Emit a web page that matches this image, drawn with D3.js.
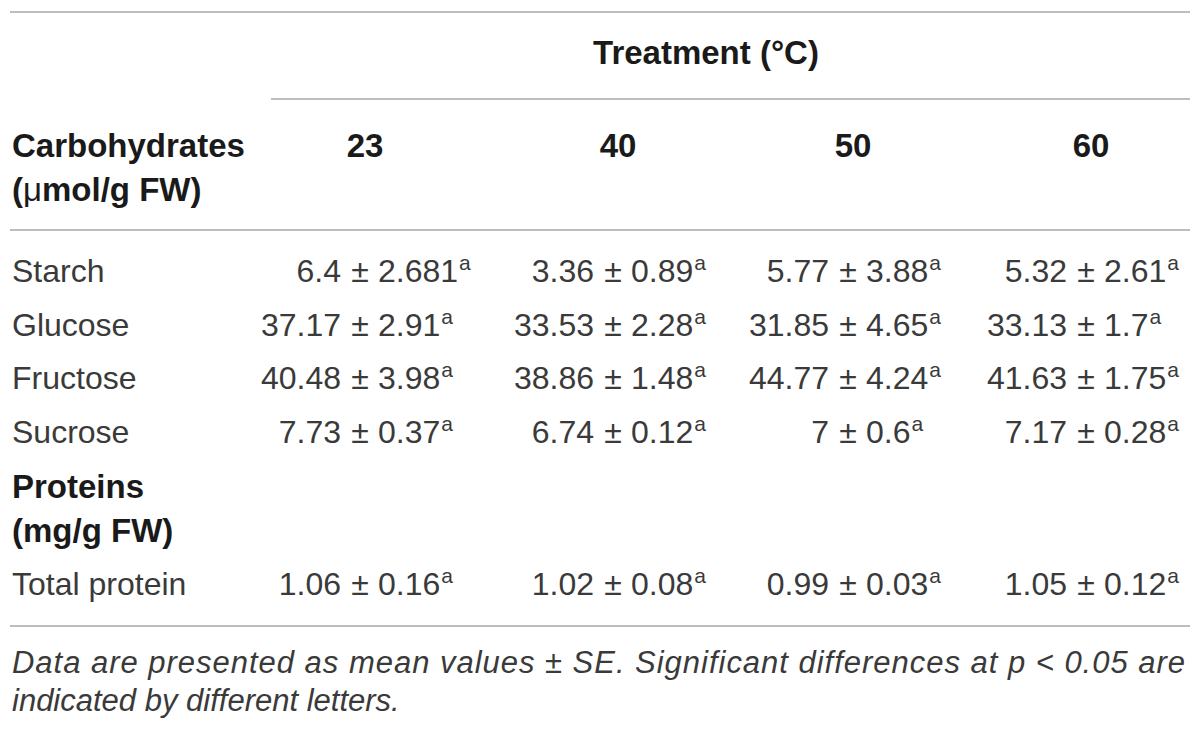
<!DOCTYPE html>
<html>
<head>
<meta charset="utf-8">
<script src="https://cdn.jsdelivr.net/npm/d3@7"></script>
<style>
  body { margin: 0; background: #fff; }
  text { font-family: "Liberation Sans", Arial, sans-serif; }
</style>
</head>
<body>
<div id="table"></div>
<script>
var w = 1200;
var h = 731;

// column headers (treatment temperature, °C)
var temps = ["23", "40", "50", "60"];

// carbohydrates (µmol/g FW), mean and SE per temperature
var carbLabels = ["Starch", "Glucose", "Fructose", "Sucrose"];
var starchMean = [6.4, 3.36, 5.77, 5.32];
var starchSE = [2.681, 0.89, 3.88, 2.61];
var glucoseMean = [37.17, 33.53, 31.85, 33.13];
var glucoseSE = [2.91, 2.28, 4.65, 1.7];
var fructoseMean = [40.48, 38.86, 44.77, 41.63];
var fructoseSE = [3.98, 1.48, 4.24, 1.75];
var sucroseMean = [7.73, 6.74, 7, 7.17];
var sucroseSE = [0.37, 0.12, 0.6, 0.28];

// proteins (mg/g FW)
var proteinLabels = ["Total protein"];
var proteinMean = [1.06, 1.02, 0.99, 1.05];
var proteinSE = [0.16, 0.08, 0.03, 0.12];

// significance letters
var letters = ["a", "a", "a", "a"];

var footnote = ["Data are presented as mean values \u00b1 SE. Significant differences at p < 0.05 are",
                "indicated by different letters."];

var rows = [
  { label: carbLabels[0], mean: starchMean, se: starchSE, y: 282 },
  { label: carbLabels[1], mean: glucoseMean, se: glucoseSE, y: 335.5 },
  { label: carbLabels[2], mean: fructoseMean, se: fructoseSE, y: 389 },
  { label: carbLabels[3], mean: sucroseMean, se: sucroseSE, y: 442.5 },
  { label: proteinLabels[0], mean: proteinMean, se: proteinSE, y: 595 }
];

// header centres; the ± sign of each column sits just left of it
var headCenter = d3.scaleOrdinal().domain(temps).range([365, 618, 853, 1091]);
var pmX = function(i) { return headCenter(temps[i]) - 5; };

var svg = d3.select("#table")
      .append("svg")
      .attr("width", w)
      .attr("height", h);

var ink = "#3a3a3a";
var bold = "#1a1a1a";
var rule = "#bdbdbd";
var fs = 32;

// horizontal rules
var rules = [[10, 1190, 12], [271, 1190, 99], [10, 1190, 230], [10, 1190, 626]];
svg.selectAll("line.rule")
   .data(rules)
   .enter()
   .append("line")
   .attr("x1", function(d) { return d[0]; })
   .attr("x2", function(d) { return d[1]; })
   .attr("y1", function(d) { return d[2]; })
   .attr("y2", function(d) { return d[2]; })
   .attr("stroke", rule)
   .attr("stroke-width", 2);

// header
svg.append("text")
   .attr("x", 706)
   .attr("y", 64)
   .attr("text-anchor", "middle")
   .attr("font-size", 33)
   .attr("font-weight", "bold")
   .attr("fill", bold)
   .text("Treatment (\u00b0C)");

svg.selectAll("text.temp")
   .data(temps)
   .enter()
   .append("text")
   .attr("class", "temp")
   .attr("x", function(d) { return headCenter(d); })
   .attr("y", 157)
   .attr("text-anchor", "middle")
   .attr("font-size", 33)
   .attr("font-weight", "bold")
   .attr("fill", bold)
   .text(function(d) { return d; });

var groupHeads = [["Carbohydrates", 157], ["(\u03bcmol/g FW)", 201],
                  ["Proteins", 498], ["(mg/g FW)", 542]];
var gh = svg.selectAll("text.group")
   .data(groupHeads)
   .enter()
   .append("text")
   .attr("class", "group")
   .attr("x", 12)
   .attr("y", function(d) { return d[1]; })
   .attr("font-size", 33)
   .attr("font-weight", "bold")
   .attr("fill", bold);
gh.each(function(d) {
  var t = d3.select(this);
  if (d[0].indexOf("\u03bc") >= 0) {
    t.append("tspan").text("(");
    t.append("tspan").attr("font-weight", "normal").text("\u03bc");
    t.append("tspan").text(d[0].slice(2));
  } else {
    t.text(d[0]);
  }
});

// body rows
var row = svg.selectAll("g.row")
   .data(rows)
   .enter()
   .append("g")
   .attr("class", "row")
   .attr("transform", function(d) { return "translate(0," + d.y + ")"; });

row.append("text")
   .attr("x", 12)
   .attr("font-size", fs)
   .attr("fill", ink)
   .text(function(d) { return d.label; });

var cell = row.selectAll("g.cell")
   .data(function(d) {
     return d.mean.map(function(m, i) { return { mean: m, se: d.se[i], letter: letters[i], col: i }; });
   })
   .enter()
   .append("g")
   .attr("class", "cell")
   .attr("font-size", fs)
   .attr("fill", ink);

// mean, right of it the ± sign, then SE with its letter
cell.append("text")
   .attr("x", function(d) { return pmX(d.col) - 19; })
   .attr("text-anchor", "end")
   .text(function(d) { return d.mean; });
cell.append("text")
   .attr("x", function(d) { return pmX(d.col); })
   .attr("text-anchor", "middle")
   .text("\u00b1");
var se = cell.append("text")
   .attr("x", function(d) { return pmX(d.col) + 18; })
   .attr("text-anchor", "start");
se.append("tspan")
   .text(function(d) { return d.se; });
se.append("tspan")
   .attr("font-size", 21)
   .attr("dx", 1)
   .attr("dy", -12)
   .text(function(d) { return d.letter; });

// footnote
svg.selectAll("text.note")
   .data(footnote)
   .enter()
   .append("text")
   .attr("class", "note")
   .attr("x", 12)
   .attr("y", function(d, i) { return 673 + i * 38; })
   .attr("font-size", 31)
   .attr("font-style", "italic")
   .attr("fill", ink)
   .attr("textLength", function(d, i) { return i === 0 ? 1173 : null; })
   .attr("lengthAdjust", "spacing")
   .text(function(d) { return d; });
</script>
</body>
</html>
